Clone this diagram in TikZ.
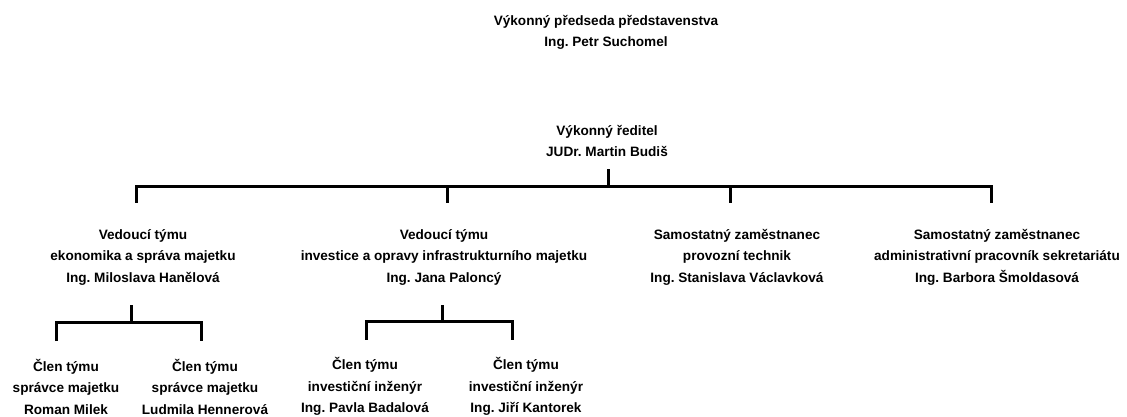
\documentclass[tikz,border=0pt]{standalone}
\usepackage{fontspec}
\setmainfont{Liberation Sans}
\frenchspacing
\begin{document}
\begin{tikzpicture}[x=1pt,y=-1pt,
  person/.style={font=\bfseries\fontsize{13.6}{21.5}\selectfont\frenchspacing, align=center, inner sep=0pt, text=black},
  conn/.style={draw=black, line width=3pt, line join=miter, line cap=butt}]
\useasboundingbox (0,0) rectangle (1127,416);
% top level
\node[person] (pres) at (606,32.5) {Výkonný předseda představenstva\\Ing. Petr Suchomel};
\node[person] (dir) at (607,141) {Výkonný ředitel\\JUDr. Martin Budiš};
% level 2
\node[person] (ek) at (143,257) {Vedoucí týmu\\ekonomika a správa majetku\\Ing. Miloslava Hanělová};
\node[person] (inv) at (444,257) {Vedoucí týmu\\investice a opravy infrastrukturního majetku\\Ing. Jana Paloncý};
\node[person] (tech) at (737,257) {Samostatný zaměstnanec\\provozní technik\\Ing. Stanislava Václavková};
\node[person] (adm) at (997,257) {Samostatný zaměstnanec\\administrativní pracovník sekretariátu\\Ing. Barbora Šmoldasová};
% level 3
\node[person] (milek) at (66,386.5) {Člen týmu\\správce majetku\\Roman Milek};
\node[person] (henn) at (205,386.5) {Člen týmu\\správce majetku\\Ludmila Hennerová};
\node[person] (bad) at (365,386.5) {Člen týmu\\investiční inženýr\\Ing. Pavla Badalová};
\node[person] (kan) at (526,386.5) {Člen týmu\\investiční inženýr\\Ing. Jiří Kantorek};
% bus coordinates
\coordinate (b0) at (608,186.5);
\coordinate (b1) at (131,322);
\coordinate (b2) at (442,321.5);
\coordinate (d1) at ([xshift=-7pt,yshift=26pt]ek.north);
\coordinate (d2) at ([xshift=3pt,yshift=26pt]inv.north);
\coordinate (d3) at ([xshift=-7pt,yshift=26pt]tech.north);
\coordinate (d4) at ([xshift=-6pt,yshift=26pt]adm.north);
\coordinate (e1) at ([xshift=-10pt,yshift=17.5pt]milek.north);
\coordinate (e2) at ([xshift=-4pt,yshift=17.5pt]henn.north);
\coordinate (e3) at ([xshift=1pt,yshift=17.5pt]bad.north);
\coordinate (e4) at ([xshift=-14pt,yshift=17.5pt]kan.north);
% director to level 2
\draw[conn] ([yshift=-12pt]dir.south -| b0) -- (b0);
\draw[conn] (d1) -- (d1 |- b0) -- (d4 |- b0) -- (d4);
\draw[conn] (d2 |- b0) -- (d2);
\draw[conn] (d3 |- b0) -- (d3);
% ek to level 3
\draw[conn] ([yshift=-20pt]ek.south -| b1) -- (b1);
\draw[conn] (e1) -- (e1 |- b1) -- (e2 |- b1) -- (e2);
% inv to level 3
\draw[conn] ([yshift=-20pt]inv.south -| b2) -- (b2);
\draw[conn] (e3) -- (e3 |- b2) -- (e4 |- b2) -- (e4);
\end{tikzpicture}
\end{document}
